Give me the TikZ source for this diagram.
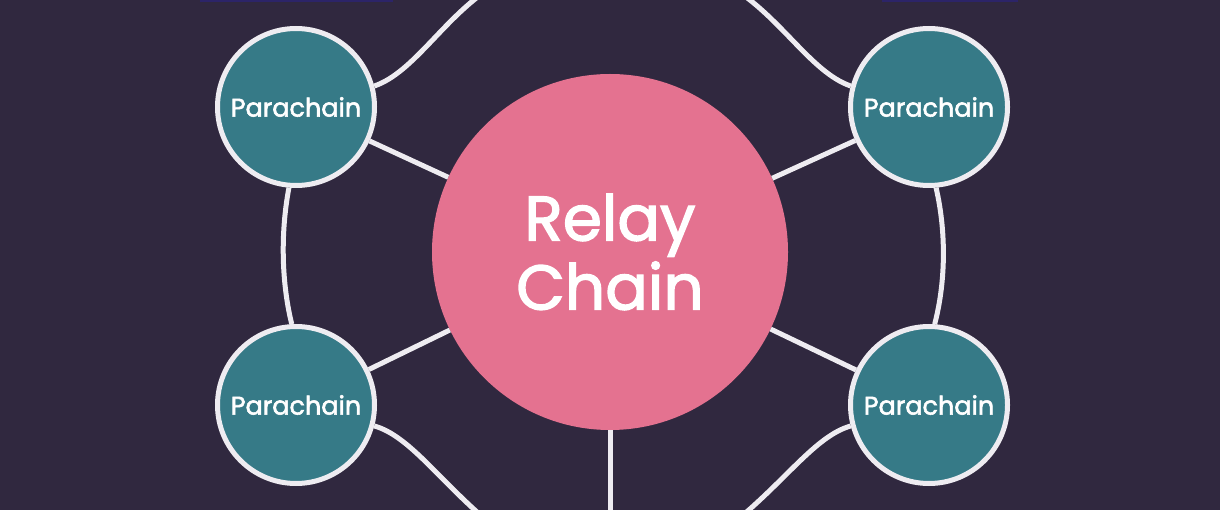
\documentclass[tikz,border=0pt]{standalone}
\usepackage{fontspec}
\newfontfamily\medfont{Poppins}[UprightFeatures={FakeBold=2.2}]
\definecolor{bgc}{HTML}{30283F}
\definecolor{pinkc}{HTML}{E47290}
\definecolor{tealc}{HTML}{367A87}
\definecolor{linec}{HTML}{EEECF1}
\definecolor{barc}{HTML}{2C2468}
\tikzset{
  relaynode/.style={circle, fill=pinkc, minimum size=356pt, inner sep=0pt, text=white, align=center,
    font=\medfont\fontsize{63}{69}\selectfont},
  paranode/.style={circle, fill=tealc, draw=linec, line width=5pt, minimum size=157pt, inner sep=0pt,
    text=white, font=\medfont\fontsize{25.5}{28}\selectfont},
  link/.style={draw=linec, line width=5pt, line cap=butt}
}
\begin{document}
\begin{tikzpicture}[x=1pt,y=-1pt]
\useasboundingbox (0,0) rectangle (1220,510);
\fill[bgc] (0,0) rectangle (1220,510);
\fill[barc] (200,0) rectangle (393,2);
\fill[barc] (882,0) rectangle (1018,2);
\node[relaynode] (relay) at (610,252) {Relay\\Chain};
\node[paranode] (tl) at (296,107) {Parachain};
\node[paranode] (tr) at (929,107) {Parachain};
\node[paranode] (bl) at (296,405) {Parachain};
\node[paranode] (br) at (929,405) {Parachain};
\coordinate (topL) at (495,-15);
\coordinate (topR) at (728,-15);
\coordinate (botL) at (492,525);
\coordinate (botR) at (731,525);
\coordinate (botM) at (610,520);
\begin{scope}
\clip (0,0) rectangle (1220,510);
\draw[link] (tl) -- (relay);
\draw[link] (tr) -- (relay);
\draw[link] (bl) -- (relay);
\draw[link] (br) -- (relay);
\draw[link] (tl.265) .. controls (280,235) and (282,285) .. (bl.93);
\draw[link] (tr.275) .. controls (947,235) and (945,285) .. (br.86);
\draw[link] (tl.15) .. controls (415,72) and (445,15) .. (topL);
\draw[link] (tr.165) .. controls (810,72) and (780,15) .. (topR);
\draw[link] (bl.-15) .. controls (410,436) and (440,482) .. (botL);
\draw[link] (br.195) .. controls (815,436) and (785,482) .. (botR);
\draw[link] (relay.south) -- (botM);
\end{scope}
\end{tikzpicture}
\end{document}
